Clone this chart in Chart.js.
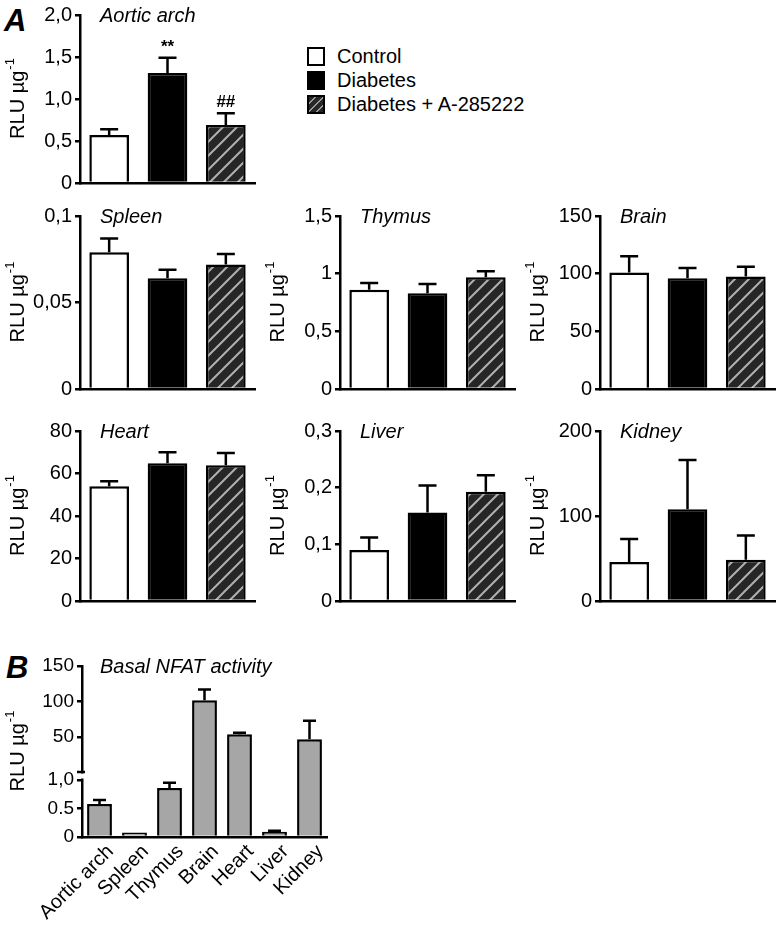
<!DOCTYPE html>
<html>
<head>
<meta charset="utf-8">
<script src="https://cdn.jsdelivr.net/npm/chart.js@4.4.1/dist/chart.umd.min.js"></script>
<style>
  body { margin: 0; background: #fff; font-family: 'Liberation Sans', Arial, sans-serif; }
  #wrap { position: relative; width: 780px; height: 926px; overflow: hidden; }
  #wrap canvas { position: absolute; }
  .letter { position: absolute; font: italic bold 31px 'Liberation Sans', Arial, sans-serif; line-height: 1; }
  .legend { position: absolute; left: 307px; top: 44px; font-size: 20px; color: #000; }
  .legend .row { display: flex; align-items: center; height: 24px; }
  .legend .box { width: 18px; height: 19px; box-sizing: border-box; border: 2px solid #000; margin-right: 12px; }
</style>
</head>
<body>
<div id="wrap">
  <div class="letter" style="left:4px;top:5px">A</div>
  <div class="letter" style="left:6px;top:652px">B</div>
  <div class="legend">
    <div class="row"><span class="box" style="background:#fff"></span>Control</div>
    <div class="row"><span class="box" style="background:#000"></span>Diabetes</div>
    <div class="row"><span class="box" style="background:repeating-linear-gradient(135deg,#262626 0 4px,#9a9a9a 4px 5.5px)"></span>Diabetes + A-285222</div>
  </div>
</div>
<script>
const FONT = "'Liberation Sans', Arial, sans-serif";

// groups in panel A
const groups = ['Control', 'Diabetes', 'Diabetes + A-285222'];

const aorticMean = [0.57, 1.31, 0.69];
const aorticSem  = [0.07, 0.18, 0.14];
const aorticMarks = ['', '**', '##'];
const aorticTicks = [0, 0.5, 1, 1.5, 2];
const aorticTickLabels = ['0', '0,5', '1,0', '1,5', '2,0'];

const spleenMean = [0.079, 0.064, 0.072];
const spleenSem  = [0.008, 0.005, 0.006];
const spleenTicks = [0, 0.05, 0.1];
const spleenTickLabels = ['0', '0,05', '0,1'];

const thymusMean = [0.86, 0.83, 0.97];
const thymusSem  = [0.06, 0.08, 0.05];
const thymusTicks = [0, 0.5, 1, 1.5];
const thymusTickLabels = ['0', '0,5', '1', '1,5'];

const brainMean = [101, 96, 97.5];
const brainSem  = [14, 9, 8.5];
const brainTicks = [0, 50, 100, 150];
const brainTickLabels = ['0', '50', '100', '150'];

const heartMean = [54, 64.8, 63.9];
const heartSem  = [2.4, 5.2, 5.7];
const heartTicks = [0, 20, 40, 60, 80];
const heartTickLabels = ['0', '20', '40', '60', '80'];

const liverMean = [0.09, 0.156, 0.193];
const liverSem  = [0.022, 0.048, 0.029];
const liverTicks = [0, 0.1, 0.2, 0.3];
const liverTickLabels = ['0', '0,1', '0,2', '0,3'];

const kidneyMean = [46, 108, 48.5];
const kidneySem  = [27, 58, 28.5];
const kidneyTicks = [0, 100, 200];
const kidneyTickLabels = ['0', '100', '200'];

// panel B
const organs = ['Aortic arch', 'Spleen', 'Thymus', 'Brain', 'Heart', 'Liver', 'Kidney'];
const basalMean = [0.58, 0.08, 0.86, 102, 54, 0.09, 47];
const basalSem  = [0.07, 0, 0.09, 15, 2, 0.02, 26];
const basalTicks = [0, 0.5, 1, 50, 100, 150];
const basalTickLabels = ['0', '0.5', '1,0', '50', '100', '150'];

function hatch() {
  const c = document.createElement('canvas');
  c.width = c.height = 14;
  const g = c.getContext('2d');
  g.fillStyle = '#262626';
  g.fillRect(0, 0, 14, 14);
  g.strokeStyle = '#b0b0b0';
  g.lineWidth = 2;
  g.beginPath();
  g.moveTo(-1, 15); g.lineTo(15, -1);
  g.moveTo(-8, 8); g.lineTo(8, -8);
  g.moveTo(6, 22); g.lineTo(22, 6);
  g.stroke();
  return g.createPattern(c, 'repeat');
}

// y axis with a break between 1 and the upper range
class BrokenScale extends Chart.LinearScale {
  static id = 'broken';
  static defaults = {};
  getPixelForValue(v) {
    const h = this.bottom - this.top;
    const lowTop = this.bottom - h * this.options.lowFrac;
    const upStart = this.bottom - h * this.options.upFrac;
    if (v <= this.options.breakAt) return this.bottom - v / this.options.breakAt * (this.bottom - lowTop);
    return upStart - (v - this.options.breakAt) / (this.max - this.options.breakAt) * (upStart - this.top);
  }
  getValueForPixel(p) {
    const h = this.bottom - this.top;
    const lowTop = this.bottom - h * this.options.lowFrac;
    const upStart = this.bottom - h * this.options.upFrac;
    if (p >= lowTop) return (this.bottom - p) / (this.bottom - lowTop) * this.options.breakAt;
    return this.options.breakAt + (upStart - p) / (upStart - this.top) * (this.max - this.options.breakAt);
  }
}
Chart.register(BrokenScale);

const deco = {
  id: 'deco',
  afterDatasetsDraw(chart, args, o) {
    const ctx = chart.ctx, y = chart.scales.y;
    const data = chart.data.datasets[0].data;
    ctx.save();
    ctx.strokeStyle = '#000';
    ctx.lineWidth = 2.5;
    chart.getDatasetMeta(0).data.forEach((bar, i) => {
      const top = y.getPixelForValue(data[i] + o.sem[i]);
      if (o.sem[i]) {
        ctx.beginPath();
        ctx.moveTo(bar.x, bar.y);
        ctx.lineTo(bar.x, top);
        ctx.moveTo(bar.x - o.cap / 2, top);
        ctx.lineTo(bar.x + o.cap / 2, top);
        ctx.stroke();
      }
      if (o.marks && o.marks[i]) {
        ctx.fillStyle = '#000';
        ctx.font = 'bold 17px ' + FONT;
        ctx.textAlign = 'center';
        ctx.textBaseline = 'bottom';
        ctx.fillText(o.marks[i], bar.x, top - 2);
      }
    });
    ctx.restore();
  },
  afterDraw(chart, args, o) {
    const ctx = chart.ctx, a = chart.chartArea;
    ctx.save();
    ctx.fillStyle = '#000';
    // panel title
    ctx.font = 'italic 20px ' + FONT;
    ctx.textAlign = 'left';
    ctx.textBaseline = 'middle';
    ctx.fillText(o.title, a.left + o.titleX, a.top + 1);
    // y axis title with superscript
    ctx.translate(a.left - o.yTitleOff, (a.top + a.bottom) / 2);
    ctx.rotate(-Math.PI / 2);
    ctx.font = '20px ' + FONT;
    const w1 = ctx.measureText('RLU µg').width;
    ctx.font = '13px ' + FONT;
    const w2 = ctx.measureText('-1').width;
    const x0 = -(w1 + w2) / 2;
    ctx.font = '20px ' + FONT;
    ctx.fillText('RLU µg', x0, 0);
    ctx.font = '13px ' + FONT;
    ctx.fillText('-1', x0 + w1 + 1, -8);
    ctx.restore();
    // axis break
    if (o.brk) {
      const y = chart.scales.y;
      const h = y.bottom - y.top;
      const upStart = y.bottom - h * y.options.upFrac;
      const lowTop = y.bottom - h * y.options.lowFrac;
      ctx.save();
      ctx.fillStyle = '#fff';
      ctx.fillRect(a.left - 3, upStart + 1.5, 6, lowTop - upStart - 3);
      ctx.strokeStyle = '#000';
      ctx.lineWidth = 2.5;
      ctx.beginPath();
      ctx.moveTo(a.left - 5, upStart);
      ctx.lineTo(a.left + 3, upStart);
      ctx.stroke();
      ctx.restore();
    }
  }
};
Chart.register(deco);

const wrap = document.getElementById('wrap');
function makeCanvas(left, top, w, h) {
  const c = document.createElement('canvas');
  c.width = w; c.height = h;
  c.style.left = left + 'px';
  c.style.top = top + 'px';
  wrap.appendChild(c);
  return c;
}

const pattern = hatch();

function panelA(title, mean, sem, ticks, tickLabels, marks, left, top, h, padTop) {
  const cv = makeCanvas(left, top, 260, h);
  new Chart(cv, {
    type: 'bar',
    data: {
      labels: groups,
      datasets: [{
        data: mean,
        backgroundColor: ['#fff', '#000', pattern],
        borderColor: '#000',
        borderWidth: 2.5,
        borderSkipped: 'start',
        barPercentage: 0.68,
        categoryPercentage: 1
      }]
    },
    options: {
      responsive: false,
      animation: false,
      layout: { padding: { top: padTop, right: 5, left: 0, bottom: 0 } },
      plugins: {
        legend: { display: false },
        tooltip: { enabled: false },
        deco: { title, sem, marks, cap: 18, titleX: 20, yTitleOff: 62 }
      },
      scales: {
        x: {
          ticks: { display: false },
          grid: { display: false },
          border: { display: true, color: '#000', width: 2.5, z: 1 },
          afterFit: s => { s.height = 8; }
        },
        y: {
          min: 0,
          max: ticks[ticks.length - 1],
          afterBuildTicks: s => { s.ticks = ticks.map(v => ({ value: v })); },
          ticks: { callback: (v, i) => tickLabels[i], color: '#000', font: { size: 20, family: FONT }, padding: 3 },
          grid: { display: true, drawOnChartArea: false, drawTicks: true, tickLength: 5, color: '#000', lineWidth: 2.5 },
          border: { display: true, color: '#000', width: 2.5 },
          afterFit: s => { s.width = 80; }
        }
      }
    }
  });
}

// canvas height = plot bottom + 16 (x axis box and label padding)
panelA('Aortic arch', aorticMean, aorticSem, aorticTicks, aorticTickLabels, aorticMarks, 0, 0, 198, 14);
panelA('Spleen', spleenMean, spleenSem, spleenTicks, spleenTickLabels, null, 0, 200, 204, 16);
panelA('Thymus', thymusMean, thymusSem, thymusTicks, thymusTickLabels, null, 260, 200, 204, 16);
panelA('Brain', brainMean, brainSem, brainTicks, brainTickLabels, null, 520, 200, 204, 16);
panelA('Heart', heartMean, heartSem, heartTicks, heartTickLabels, null, 0, 410, 206, 21);
panelA('Liver', liverMean, liverSem, liverTicks, liverTickLabels, null, 260, 410, 206, 21);
panelA('Kidney', kidneyMean, kidneySem, kidneyTicks, kidneyTickLabels, null, 520, 410, 206, 21);

// panel B
const cvB = makeCanvas(0, 640, 340, 286);
new Chart(cvB, {
  type: 'bar',
  data: {
    labels: organs,
    datasets: [{
      data: basalMean,
      backgroundColor: '#a6a6a6',
      borderColor: '#000',
      borderWidth: 2.5,
      borderSkipped: 'start',
      barPercentage: 0.71,
      categoryPercentage: 1
    }]
  },
  options: {
    responsive: false,
    animation: false,
    layout: { padding: { top: 26, right: 13, left: 0, bottom: 0 } },
    plugins: {
      legend: { display: false },
      tooltip: { enabled: false },
      deco: { title: 'Basal NFAT activity', sem: basalSem, cap: 13, titleX: 18, yTitleOff: 64, brk: true }
    },
    scales: {
      x: {
        ticks: { color: '#000', font: { size: 20, family: FONT }, minRotation: 45, maxRotation: 45, autoSkip: false, padding: -5, labelOffset: 11 },
        grid: { display: false },
        border: { display: true, color: '#000', width: 2.5, z: 1 },
        afterFit: s => { s.height = 89; }
      },
      y: {
        type: 'broken',
        min: 0,
        max: 150,
        breakAt: 1,
        lowFrac: 57 / 171,
        upFrac: 65 / 171,
        afterBuildTicks: s => { s.ticks = basalTicks.map(v => ({ value: v })); },
        ticks: { callback: (v, i) => basalTickLabels[i], color: '#000', font: { size: 19, family: FONT }, padding: 3 },
        grid: { display: true, drawOnChartArea: false, drawTicks: true, tickLength: 5, color: '#000', lineWidth: 2.5 },
        border: { display: true, color: '#000', width: 2.5 },
        afterFit: s => { s.width = 82; }
      }
    }
  }
});
</script>
</body>
</html>
